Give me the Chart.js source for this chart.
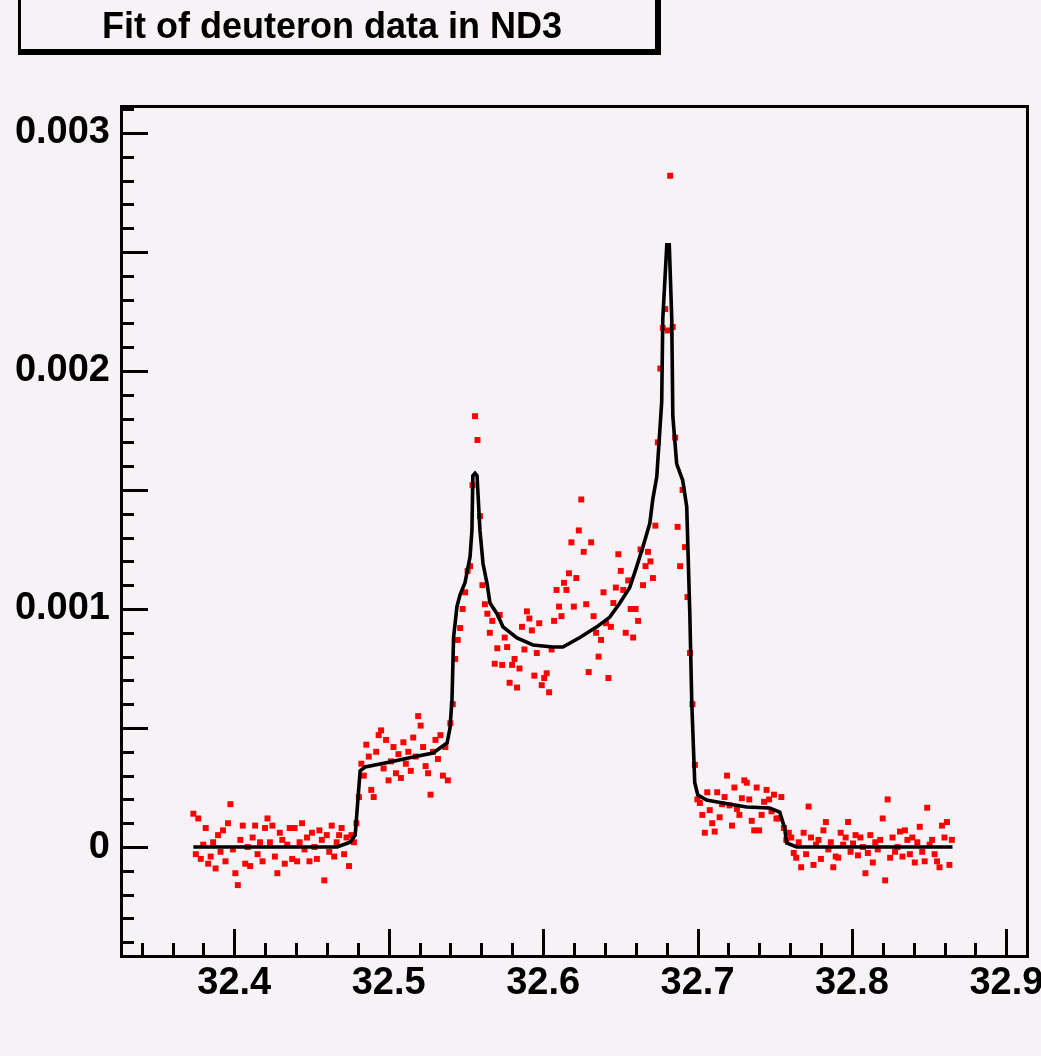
<!DOCTYPE html>
<html>
<head>
<meta charset="utf-8">
<title>Fit of deuteron data in ND3</title>
<script src="https://cdn.jsdelivr.net/npm/chart.js@4.4.1/dist/chart.umd.min.js"></script>
<style>
  html, body { margin: 0; padding: 0; background: #f6f2f6; }
  #wrap { width: 1041px; height: 1056px; }
</style>
</head>
<body>
<div id="wrap"><canvas id="chart" width="1041" height="1056"></canvas></div>
<script>
// Fit of deuteron NMR signal in ND3 (ROOT style canvas)

// --- Data ---
const MILLI = 1e-3; // values below are typed in units of 0.001

// sweep: one sample every 0.0016 starting at 32.3735
const sweepStart = 32.3735;
const sweepStep = 0.0016;

const signalMilli = [
  0.14, -0.03, 0.12, -0.05, 0.01, 0.08, -0.07, -0.04, 0.02, -0.09,
  0.05, -0.02, 0.07, -0.06, 0.10, 0.18, -0.01, -0.11, -0.16, 0.03,
  0.09, -0.07, 0.00, -0.08, 0.04, 0.09, -0.03, 0.02, -0.06, 0.08,
  0.12, 0.02, 0.09, -0.04, -0.11, 0.06, 0.03, -0.07, 0.01, 0.08,
  -0.05, 0.08, -0.06, 0.02, 0.10, -0.01, 0.04, -0.06, 0.06, 0.00,
  -0.05, 0.07, 0.03, -0.14, 0.05, -0.02, 0.09, -0.04, 0.02, 0.05,
  0.08, -0.03, 0.04, -0.08, 0.05, 0.02, 0.10, 0.21, 0.35, 0.30,
  0.43, 0.38, 0.24, 0.21, 0.40, 0.47, 0.49, 0.33, 0.45, 0.28,
  0.36, 0.42, 0.31, 0.39, 0.29, 0.44, 0.35, 0.40, 0.32, 0.46,
  0.38, 0.55, 0.51, 0.42, 0.34, 0.31, 0.22, 0.40, 0.45, 0.37,
  0.47, 0.30, 0.42, 0.28, 0.52, 0.60, 0.79, 0.87, 0.92, 1.00,
  1.07, 1.16, 1.18, 1.52, 1.81, 1.71, 1.39, 1.10, 1.02, 0.98,
  0.90, 0.95, 0.77, 0.835, 0.975, 0.765, 0.88, 0.84, 0.69, 0.765,
  0.79, 0.67, 0.75, 0.925, 0.83, 0.99, 0.96, 0.91, 0.72, 0.815,
  0.94, 0.68, 0.71, 0.73, 0.65, 0.83, 0.95, 1.08, 1.01, 0.97,
  1.11, 1.08, 1.15, 1.28, 1.01, 1.13, 1.33, 1.46, 1.24, 1.02,
  0.735, 1.28, 0.97, 0.90, 0.80, 0.87, 1.07, 0.94, 0.71, 0.925,
  1.025, 1.09, 1.23, 1.16, 1.08, 0.90, 1.12, 1.00, 0.88, 1.00,
  0.95, 1.25, 1.10, 1.18, 1.24, 1.20, 1.13, 1.35, 1.70, 2.01,
  2.18, 2.26, 2.17, 2.82, 2.185, 1.72, 1.345, 1.18, 1.50, 1.26,
  1.05, 0.815, 0.60, 0.345, 0.20, 0.185, 0.135, 0.06, 0.23, 0.155,
  0.10, 0.065, 0.23, 0.125, 0.18, 0.21, 0.30, 0.175, 0.09, 0.25,
  0.16, 0.135, 0.205, 0.28, 0.27, 0.20, 0.11, 0.07, 0.25, 0.07,
  0.135, 0.19, 0.24, 0.20, 0.15, 0.22, 0.12, 0.12, 0.21, 0.08,
  0.03, 0.06, 0.04, -0.025, -0.045, 0.02, -0.085, 0.06, -0.03, 0.17,
  0.04, -0.075, 0.01, 0.03, -0.05, 0.07, 0.105, -0.01, 0.02, -0.085,
  -0.04, -0.045, 0.06, 0.01, 0.04, 0.105, -0.02, 0.015, 0.05, -0.035,
  0.04, 0.00, -0.11, -0.025, 0.05, -0.065, 0.02, -0.01, 0.03, 0.12,
  -0.14, 0.20, -0.045, 0.04, -0.02, 0.00, 0.065, -0.04, 0.07, 0.03,
  -0.03, 0.04, -0.065, 0.02, 0.085, -0.02, -0.06, 0.165, 0.01, 0.03,
  -0.03, -0.06, -0.085, 0.09, 0.04, 0.105, -0.075, 0.03,
];

// fitted lineshape (black curve)
const fitX = [
  32.3735, 32.4666, 32.4750, 32.4783, 32.4815, 32.4847, 32.5009, 32.5158,
  32.5287, 32.5378, 32.5397, 32.5410, 32.5420, 32.5442, 32.5462, 32.5494,
  32.5527, 32.5539, 32.5545, 32.5559, 32.5572, 32.5591, 32.5611, 32.5636,
  32.5656, 32.5701, 32.5740, 32.5831, 32.5934, 32.6063, 32.6128, 32.6238,
  32.6348, 32.6432, 32.6497, 32.6561, 32.6607, 32.6646, 32.6691, 32.6710,
  32.6736, 32.6768, 32.6775, 32.6801, 32.6817, 32.6833, 32.6840, 32.6865,
  32.6904, 32.6930, 32.6950, 32.6963, 32.6982, 32.7002, 32.7059, 32.7163,
  32.7318, 32.7467, 32.7532, 32.7564, 32.7577, 32.7642, 32.8651,
];
const fitMilli = [
  0, 0, 0.02, 0.05, 0.32, 0.336, 0.357, 0.378,
  0.395, 0.437, 0.50, 0.62, 0.88, 1.01, 1.06, 1.11,
  1.22, 1.33, 1.56, 1.57, 1.56, 1.33, 1.19, 1.11,
  1.025, 0.98, 0.925, 0.878, 0.849, 0.84, 0.84, 0.88,
  0.925, 0.966, 1.025, 1.09, 1.18, 1.26, 1.36, 1.46,
  1.555, 1.87, 2.22, 2.53, 2.53, 2.22, 1.81, 1.61,
  1.54, 1.43, 0.98, 0.60, 0.27, 0.218, 0.197, 0.185,
  0.168, 0.164, 0.147, 0.08, 0.017, 0, 0,
];

// axes
const xRange = [32.326, 32.914];
const yRange = [-0.000462, 0.003113];
const xTicks = [32.4, 32.5, 32.6, 32.7, 32.8, 32.9];
const xTickLabels = ['32.4', '32.5', '32.6', '32.7', '32.8', '32.9'];
const yTicks = [0, 0.001, 0.002, 0.003];
const yTickLabels = ['0', '0.001', '0.002', '0.003'];
const titleText = 'Fit of deuteron data in ND3';

// --- Style ---
const BG = '#f6f2f6';
const FONT = '"Liberation Sans", Arial, Helvetica, sans-serif';

const signalPoints = signalMilli.map((v, i) => ({ x: sweepStart + i * sweepStep, y: v * MILLI }));
const fitPoints = fitX.map((x, i) => ({ x, y: fitMilli[i] * MILLI }));

// ROOT-like frame, inward ticks and title pave
const rootFrame = {
  id: 'rootFrame',
  beforeDraw(chart) {
    const ctx = chart.ctx;
    ctx.save();
    ctx.fillStyle = BG;
    ctx.fillRect(0, 0, chart.width, chart.height);

    // title box with shadow
    ctx.fillStyle = '#000';
    ctx.fillRect(18, 0, 3, 50);
    ctx.fillRect(18, 49, 643, 6);
    ctx.fillRect(655, 0, 6, 55);
    ctx.font = 'bold 36px ' + FONT;
    ctx.textBaseline = 'alphabetic';
    ctx.textAlign = 'left';
    ctx.fillText(titleText, 102, 38);
    ctx.restore();
  },
  afterDraw(chart) {
    const { ctx, chartArea: a, scales: { x, y } } = chart;
    ctx.save();
    ctx.strokeStyle = '#000';
    ctx.lineWidth = 3;
    ctx.strokeRect(a.left + 1.5, a.top + 0.5, a.right - a.left - 2, a.bottom - a.top - 1);

    ctx.beginPath();
    // y: minor every 0.0001, major every 0.0005
    for (let k = -4; k <= 31; k++) {
      const py = Math.round(y.getPixelForValue(k * 1e-4)) + 0.5;
      const len = k % 5 === 0 ? 28 : 14;
      ctx.moveTo(a.left, py);
      ctx.lineTo(a.left + len, py);
    }
    // x: minor every 0.02, major every 0.1
    for (let m = 1617; m <= 1645; m++) {
      const px = Math.round(x.getPixelForValue(m * 0.02)) + 0.5;
      const len = m % 5 === 0 ? 28 : 14;
      ctx.moveTo(px, a.bottom);
      ctx.lineTo(px, a.bottom - len);
    }
    ctx.stroke();
    ctx.restore();
  },
};

new Chart(document.getElementById('chart'), {
  type: 'scatter',
  data: {
    datasets: [
      {
        label: 'fit',
        data: fitPoints,
        showLine: true,
        borderColor: '#000',
        borderWidth: 3.6,
        tension: 0,
        pointRadius: 0,
        order: 0,
      },
      {
        label: 'deuteron data',
        data: signalPoints,
        pointStyle: 'rect',
        pointRadius: 4.2,
        pointBackgroundColor: '#ff0000',
        pointBorderColor: '#ff0000',
        pointBorderWidth: 0,
        showLine: false,
        order: 1,
      },
    ],
  },
  options: {
    responsive: false,
    animation: false,
    devicePixelRatio: 1,
    layout: { padding: { top: 106, right: 13, left: 0, bottom: 0 } },
    plugins: {
      legend: { display: false },
      tooltip: { enabled: false },
    },
    scales: {
      x: {
        type: 'linear',
        min: xRange[0],
        max: xRange[1],
        grid: { display: false, drawTicks: false },
        border: { display: false },
        afterBuildTicks: (s) => { s.ticks = xTicks.map((v) => ({ value: v })); },
        afterFit: (s) => { s.height = 99; s.paddingLeft = 0; s.paddingRight = 0; },
        ticks: {
          autoSkip: false,
          maxRotation: 0,
          padding: 4,
          color: '#000',
          font: { family: FONT, size: 38, weight: 'bold' },
          callback: (v, i) => xTickLabels[i],
        },
      },
      y: {
        type: 'linear',
        min: yRange[0],
        max: yRange[1],
        grid: { display: false, drawTicks: false },
        border: { display: false },
        afterBuildTicks: (s) => { s.ticks = yTicks.map((v) => ({ value: v })); },
        afterFit: (s) => { s.width = 120; s.paddingTop = 0; s.paddingBottom = 0; },
        ticks: {
          autoSkip: false,
          padding: 10,
          color: '#000',
          font: { family: FONT, size: 38, weight: 'bold' },
          callback: (v, i) => yTickLabels[i],
        },
      },
    },
  },
  plugins: [rootFrame],
});
</script>
</body>
</html>
